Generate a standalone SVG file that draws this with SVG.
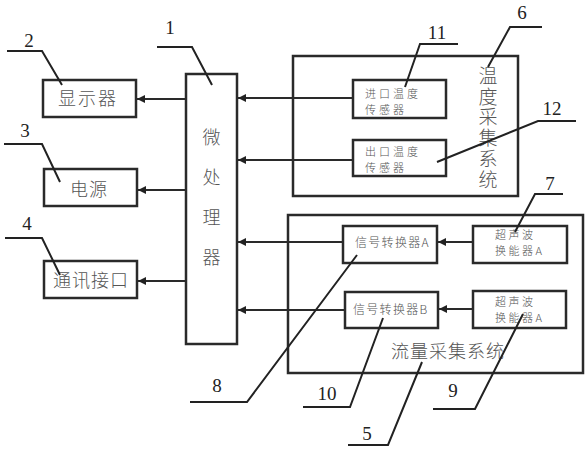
<svg xmlns="http://www.w3.org/2000/svg" width="586" height="450" viewBox="0 0 586 450">
<defs>
<style>
.box{fill:none;stroke:#2a2a2a;stroke-width:2.5}
.ln{fill:none;stroke:#2a2a2a;stroke-width:2}
.ld{fill:none;stroke:#222;stroke-width:2}
.t{font-family:"Noto Sans CJK SC","Noto Sans CJK JP",sans-serif;fill:#555;font-weight:300}
.big{font-size:18px}
.sm{font-size:12px}
.xs{font-size:11px}
.vt{writing-mode:vertical-rl}
.num{font-family:"Liberation Serif",serif;font-size:19px;fill:#222;text-anchor:middle}
</style>
<marker id="ah" viewBox="0 0 10 10" refX="10" refY="5" markerWidth="9" markerHeight="8" markerUnits="userSpaceOnUse" orient="auto">
<path d="M0,0 L10,5 L0,10 Z" fill="#222"/>
</marker>
</defs>
<rect width="586" height="450" fill="#fff"/>

<g id="n1-processor">
<rect class="box" x="186" y="74" width="51" height="270"/>
<text class="t big vt" x="211.5" y="128" letter-spacing="22">微处理器</text>
</g>
<g id="n2-display">
<rect class="box" x="43" y="80" width="93" height="37"/>
<text class="t big" x="88" y="105" text-anchor="middle" letter-spacing="2">显示器</text>
</g>
<g id="n3-power">
<rect class="box" x="44" y="169" width="93" height="37"/>
<text class="t big" x="89" y="196" text-anchor="middle" letter-spacing="1">电源</text>
</g>
<g id="n4-comm">
<rect class="box" x="44" y="261" width="93" height="37"/>
<text class="t big" x="91" y="287" text-anchor="middle" letter-spacing="1">通讯接口</text>
</g>
<g id="n6-temp-system">
<rect class="box" x="293" y="56" width="225" height="140"/>
<text class="t vt" font-size="19" x="488" y="66" letter-spacing="1.8">温度采集系统</text>
</g>
<g id="n11-inlet-sensor">
<rect class="box" x="353" y="80" width="93" height="38"/>
<text class="t xs" letter-spacing="3"><tspan x="365" y="97.5">进口温度</tspan><tspan x="365" y="113.5">传感器</tspan></text>
</g>
<g id="n12-outlet-sensor">
<rect class="box" x="353" y="140" width="93" height="36"/>
<text class="t xs" letter-spacing="3"><tspan x="365" y="155.5">出口温度</tspan><tspan x="365" y="171.5">传感器</tspan></text>
</g>
<g id="n5-flow-system">
<rect class="box" x="288" y="215" width="295" height="158"/>
<text class="t" font-size="18" x="448" y="358" text-anchor="middle" letter-spacing="1">流量采集系统</text>
</g>
<g id="n8-converter-a">
<rect class="box" x="343" y="226" width="94" height="37"/>
<text class="t sm" x="355" y="247" letter-spacing="1.3">信号转换器A</text>
</g>
<g id="n7-ultrasonic-a">
<rect class="box" x="473" y="226" width="94" height="37"/>
<text class="t xs" letter-spacing="2.5"><tspan x="495" y="238.5">超声波</tspan><tspan x="495" y="254.5">换能器A</tspan></text>
</g>
<g id="n10-converter-b">
<rect class="box" x="345" y="292" width="93" height="36"/>
<text class="t sm" x="353" y="314" letter-spacing="1.3">信号转换器B</text>
</g>
<g id="n9-ultrasonic-b">
<rect class="box" x="473" y="291" width="93" height="37"/>
<text class="t xs" letter-spacing="2.5"><tspan x="495" y="306">超声波</tspan><tspan x="495" y="322">换能器A</tspan></text>
</g>

<g id="connectors">
<line class="ln" x1="186" y1="99" x2="137" y2="99" marker-end="url(#ah)"/>
<line class="ln" x1="186" y1="190" x2="138" y2="190" marker-end="url(#ah)"/>
<line class="ln" x1="186" y1="281" x2="138" y2="281" marker-end="url(#ah)"/>
<line class="ln" x1="353" y1="98" x2="238" y2="98" marker-end="url(#ah)"/>
<line class="ln" x1="353" y1="160" x2="238" y2="160" marker-end="url(#ah)"/>
<line class="ln" x1="343" y1="242" x2="238" y2="242" marker-end="url(#ah)"/>
<line class="ln" x1="345" y1="310" x2="238" y2="310" marker-end="url(#ah)"/>
<line class="ln" x1="473" y1="242" x2="438" y2="242" marker-end="url(#ah)"/>
<line class="ln" x1="473" y1="309" x2="439" y2="309" marker-end="url(#ah)"/>
</g>

<g id="leaders">
<polyline class="ld" points="157,47 192,47 212,85"/>
<polyline class="ld" points="7,51 42,51 62,85"/>
<polyline class="ld" points="4,144 42,144 60,182"/>
<polyline class="ld" points="5,238 42,238 60,275"/>
<polyline class="ld" points="458,44 420,44 405,87"/>
<polyline class="ld" points="542,27 510,27 488,67"/>
<polyline class="ld" points="576,121 538,121 437,162"/>
<polyline class="ld" points="563,194 535,194 515,232"/>
<polyline class="ld" points="190,402 247,402 357,255"/>
<polyline class="ld" points="303,407 350,407 383,318"/>
<polyline class="ld" points="433,409 475,409 523,314"/>
<polyline class="ld" points="348,445 388,445 422,362"/>
</g>

<g id="labels">
<text class="num" x="170" y="34">1</text>
<text class="num" x="29" y="47">2</text>
<text class="num" x="25" y="137">3</text>
<text class="num" x="27" y="230">4</text>
<text class="num" x="437" y="39">11</text>
<text class="num" x="522" y="19">6</text>
<text class="num" x="552" y="115">12</text>
<text class="num" x="550" y="190">7</text>
<text class="num" x="217" y="392">8</text>
<text class="num" x="327" y="400">10</text>
<text class="num" x="453" y="397">9</text>
<text class="num" x="367" y="440">5</text>
</g>
</svg>
